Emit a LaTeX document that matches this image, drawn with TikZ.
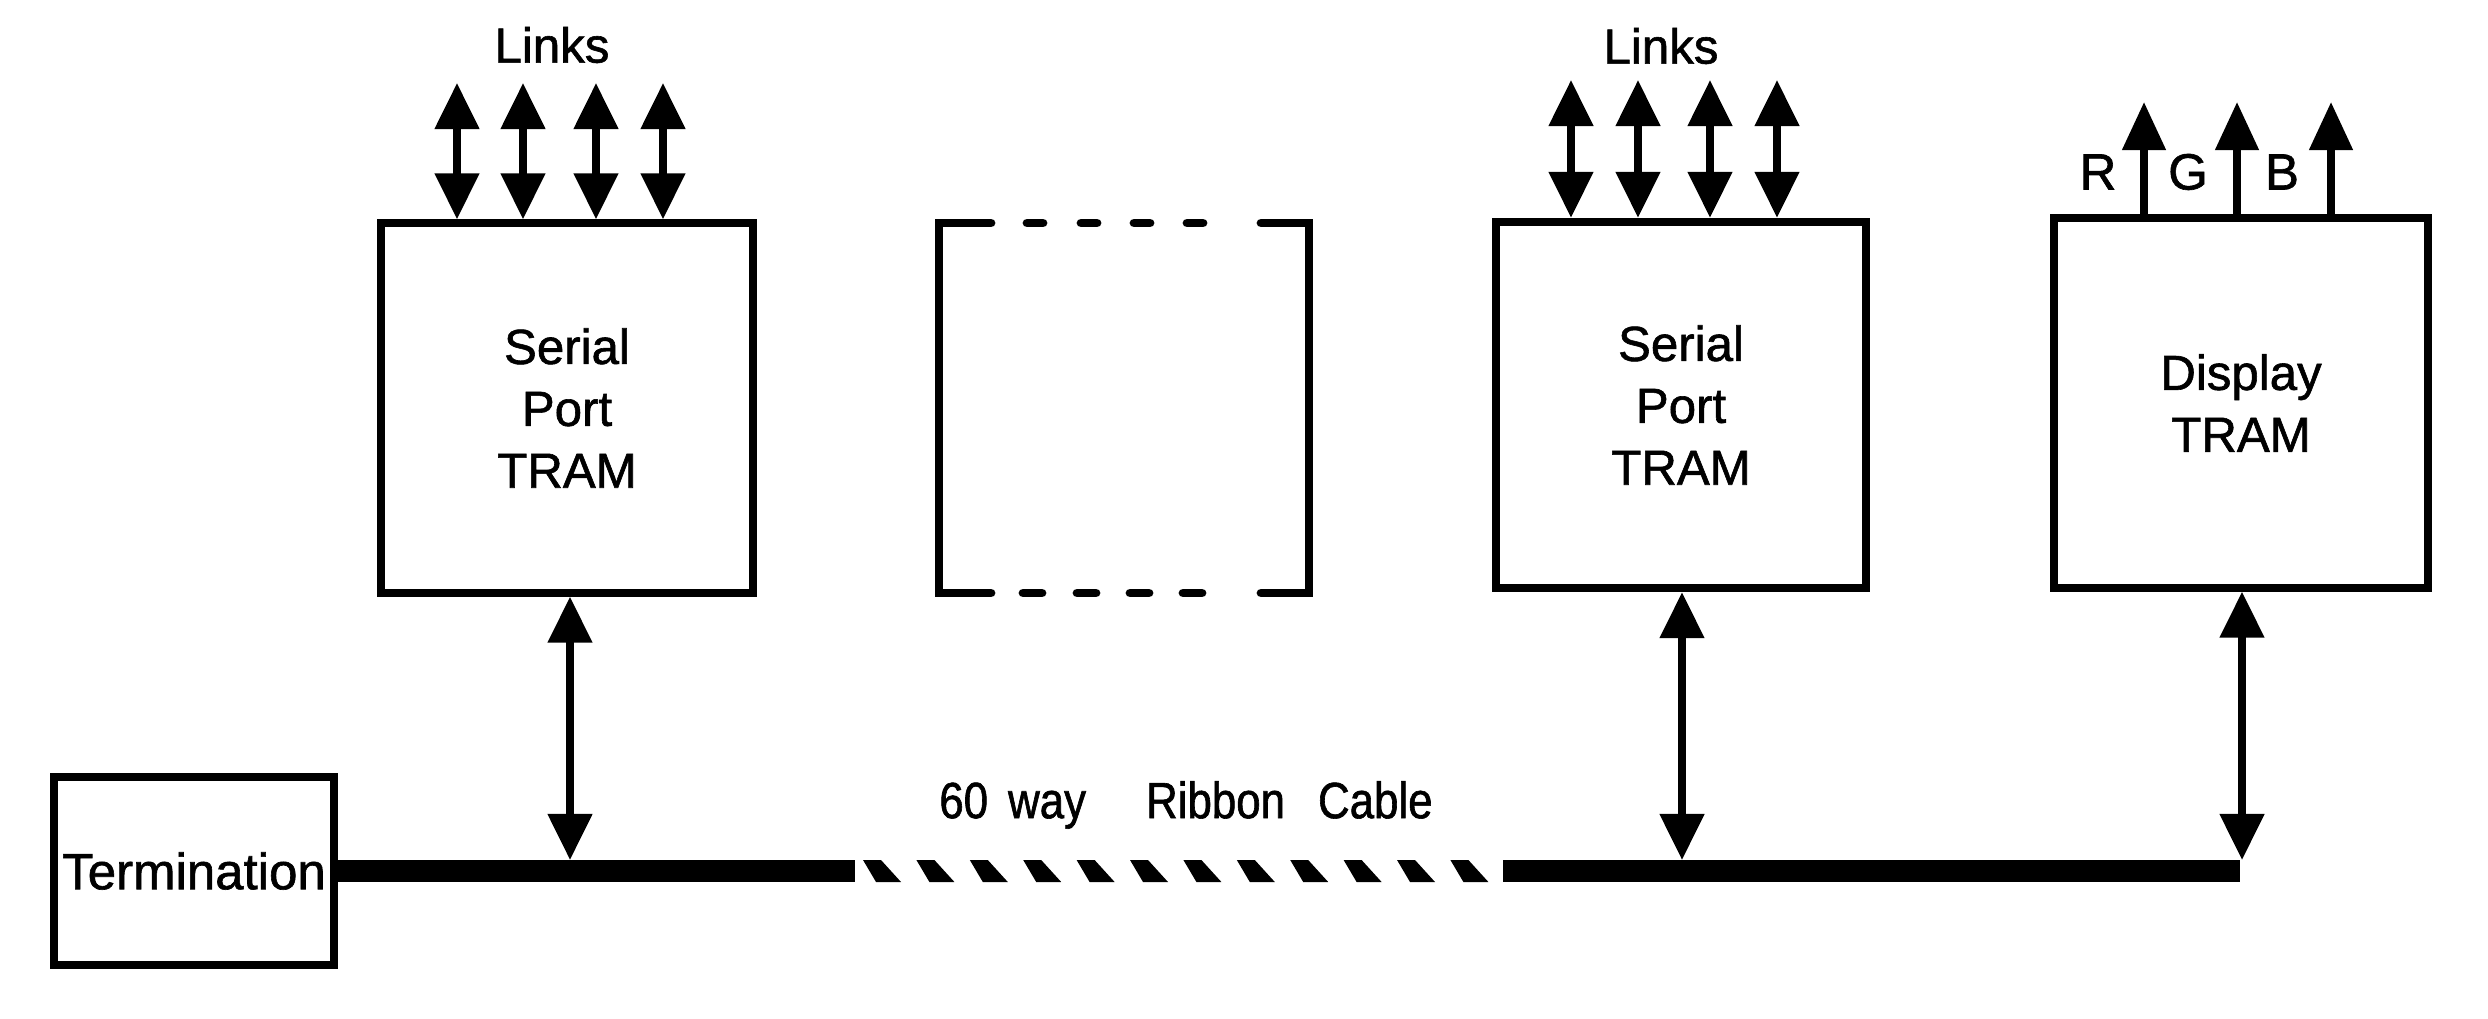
\documentclass[tikz,border=0pt]{standalone}
\usepackage{fontspec}
\setmainfont[FakeBold=0]{Liberation Sans}
\newfontfamily\heavyfont[FakeBold=1.2]{Liberation Sans}
\newfontfamily\narrowfont[FakeStretch=0.86,FakeBold=1.2]{Liberation Sans}
\usetikzlibrary{arrows.meta,calc}
\begin{document}
\begin{tikzpicture}[x=0.01cm,y=-0.01cm,
  box/.style={draw,line width=2.3pt,inner sep=0pt,align=center,font=\heavyfont\fontsize{14}{17.6}\selectfont},
  conn/.style={line width=2.2pt,{Triangle[width=0.43cm,length=0.46cm]}-{Triangle[width=0.43cm,length=0.46cm]}},
  outarrow/.style={line width=2.2pt,-{Triangle[width=0.42cm,length=0.48cm]}},
  bus/.style={line width=0.22cm},
  dashbox/.style={line width=2.5pt,line cap=round},
  lbl/.style={inner sep=0pt,font=\heavyfont\fontsize{14.5}{17}\selectfont}]
\useasboundingbox (0,0) rectangle (2488,1019);

% boxes
\node[box,minimum width=3.71cm,minimum height=3.69cm] (sp1) at (567,408) {Serial\\Port\\TRAM};
\node[box,minimum width=3.70cm,minimum height=3.66cm] (sp2) at (1681,405) {Serial\\Port\\TRAM};
\node[box,minimum width=3.74cm,minimum height=3.69cm] (disp) at (2241,403) {Display\\TRAM};
\node[box,minimum width=2.80cm,minimum height=1.87cm,font=\heavyfont\fontsize{14.5}{17}\selectfont] (term) at (194,871) {Termination};

% empty (dashed) slot
\draw[dashbox] (991,223) -- (939,223) -- (939,593) -- (991,593);
\draw[dashbox] (1261,223) -- (1309,223) -- (1309,593) -- (1261,593);
\foreach \a in {1023,1077,1130,1183} {
  \draw[dashbox] (\a+4,223) -- ++(16,0);
  \draw[dashbox] (\a,593) -- ++(19,0);
}

% links
\node[lbl,font=\heavyfont\fontsize{14}{17}\selectfont] (links1) at (552,45) {Links};
\node[lbl,font=\heavyfont\fontsize{14}{17}\selectfont] (links2) at (1661,46) {Links};
\foreach \x [count=\i] in {457,523,596,663} {
  \coordinate (la\i) at (\x,83);
  \draw[conn] (la\i) -- (la\i |- sp1.north);
}
\foreach \x [count=\i] in {1571,1638,1710,1777} {
  \coordinate (lb\i) at (\x,80);
  \draw[conn] (lb\i) -- (lb\i |- sp2.north);
}

% RGB outputs
\foreach \x [count=\i] in {2144,2237,2331} {
  \coordinate (rgb\i) at (\x,102);
  \draw[outarrow] (rgb\i |- disp.north) -- (rgb\i);
}
\node[lbl] (r) at (2098,172) {R};
\node[lbl] (g) at (2188,172) {G};
\node[lbl] (b) at (2282,172) {B};

% bus
\coordinate (busA) at (855,871);
\coordinate (busB) at (1503,871);
\coordinate (busC) at (2240,871);
\draw[bus] (term.east) -- (busA);
\draw[bus] (busB) -- (busC);
\foreach \k in {0,...,11} {
  \fill ({863+53.4*\k},860) -- ++(18,0) -- ++(20,22) -- ++(-25,0) -- cycle;
}
\node[lbl,font=\narrowfont\fontsize{14.5}{17}\selectfont] (ribbon) at (1186,805) {60\hspace{0.2cm}way\hspace{0.6cm}Ribbon\hspace{0.33cm}Cable};

% taps
\coordinate (tap1) at (570,860);
\coordinate (tap2) at (1682,860);
\coordinate (tap3) at (2242,860);
\draw[conn] (tap1 |- sp1.south) -- (tap1);
\draw[conn] (tap2 |- sp2.south) -- (tap2);
\draw[conn] (tap3 |- disp.south) -- (tap3);
\end{tikzpicture}
\end{document}
